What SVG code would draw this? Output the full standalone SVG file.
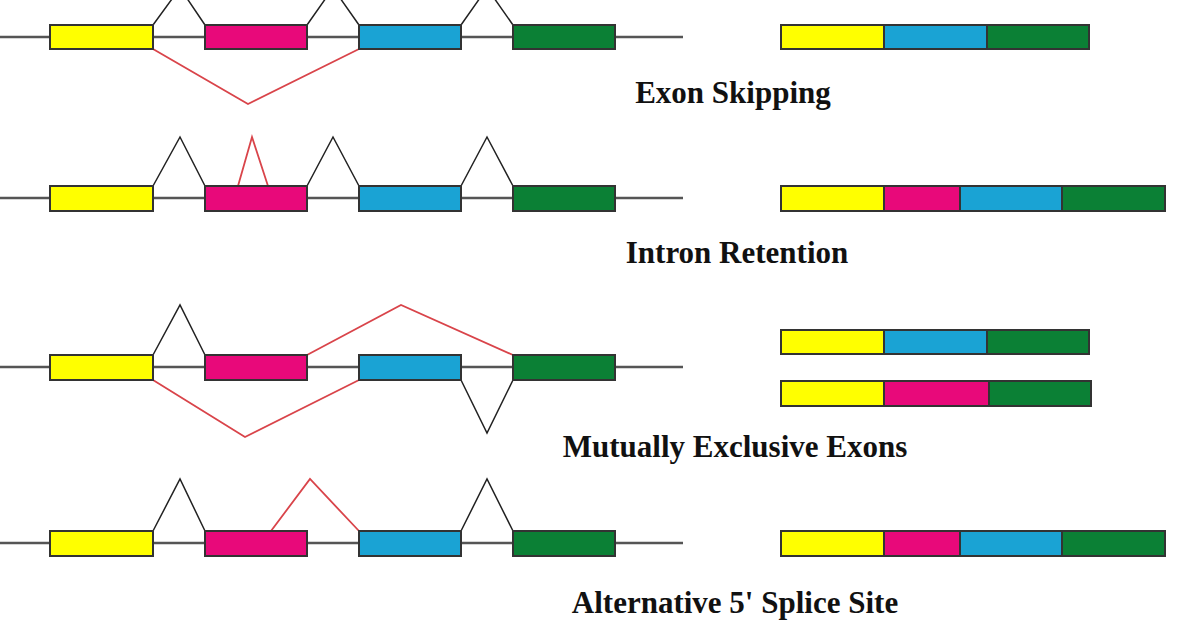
<svg xmlns="http://www.w3.org/2000/svg" width="1196" height="628" viewBox="0 0 1196 628">
<style>
.ln{stroke:#555;stroke-width:2.5}
.y{fill:#ffff00;stroke:#333;stroke-width:2}
.p{fill:#e8097a;stroke:#333;stroke-width:2}
.b{fill:#1aa3d4;stroke:#333;stroke-width:2}
.g{fill:#0b8035;stroke:#333;stroke-width:2}
.k{fill:none;stroke:#222;stroke-width:1.5}
.r{fill:none;stroke:#d9444a;stroke-width:1.8}
text{font-family:"Liberation Serif",serif;font-weight:bold;font-size:31px;fill:#111;text-anchor:middle}
</style>
<rect width="1196" height="628" fill="#fff"/>
<g id="connectors">
<polyline class="k" points="153,25 180,-12 205,25"/><polyline class="k" points="307,25 333,-12 359,25"/><polyline class="k" points="461,25 487,-12 513,25"/>
<polyline class="r" points="153,49 248,104 359,49"/>
<polyline class="k" points="153,186 180,137 205,186"/><polyline class="k" points="307,186 333,137 359,186"/><polyline class="k" points="461,186 487,137 513,186"/>
<polyline class="r" points="238,186 252,137 268,186"/>
<polyline class="k" points="153,355 180,305 205,355"/>
<polyline class="r" points="307,355 401,305 513,355"/>
<polyline class="r" points="153,380 245,437 359,380"/>
<polyline class="k" points="461,380 487,433 513,380"/>
<polyline class="k" points="153,531 180,479 205,531"/><polyline class="k" points="461,531 487,479 513,531"/>
<polyline class="r" points="271,531 310,479 359,531"/>
</g>
<g id="row1">
<line class="ln" x1="0" y1="37" x2="683" y2="37"/>
<rect class="y" x="50" y="25" width="103" height="24"/><rect class="p" x="205" y="25" width="102" height="24"/><rect class="b" x="359" y="25" width="102" height="24"/><rect class="g" x="513" y="25" width="102" height="24"/>
<rect class="y" x="781" y="25" width="103" height="24"/><rect class="b" x="884" y="25" width="103" height="24"/><rect class="g" x="987" y="25" width="102" height="24"/>
<text x="733" y="103">Exon Skipping</text>
</g>
<g id="row2">
<line class="ln" x1="0" y1="198" x2="683" y2="198"/>
<rect class="y" x="50" y="186" width="103" height="25"/><rect class="p" x="205" y="186" width="102" height="25"/><rect class="b" x="359" y="186" width="102" height="25"/><rect class="g" x="513" y="186" width="102" height="25"/>
<rect class="y" x="781" y="186" width="103" height="25"/><rect class="p" x="884" y="186" width="76" height="25"/><rect class="b" x="960" y="186" width="102" height="25"/><rect class="g" x="1062" y="186" width="103" height="25"/>
<text x="737" y="263">Intron Retention</text>
</g>
<g id="row3">
<line class="ln" x1="0" y1="367" x2="683" y2="367"/>
<rect class="y" x="50" y="355" width="103" height="25"/><rect class="p" x="205" y="355" width="102" height="25"/><rect class="b" x="359" y="355" width="102" height="25"/><rect class="g" x="513" y="355" width="102" height="25"/>
<rect class="y" x="781" y="330" width="103" height="24"/><rect class="b" x="884" y="330" width="103" height="24"/><rect class="g" x="987" y="330" width="102" height="24"/>
<rect class="y" x="781" y="381" width="103" height="25"/><rect class="p" x="884" y="381" width="105" height="25"/><rect class="g" x="989" y="381" width="102" height="25"/>
<text x="735" y="457">Mutually Exclusive Exons</text>
</g>
<g id="row4">
<line class="ln" x1="0" y1="543" x2="683" y2="543"/>
<rect class="y" x="50" y="531" width="103" height="25"/><rect class="p" x="205" y="531" width="102" height="25"/><rect class="b" x="359" y="531" width="102" height="25"/><rect class="g" x="513" y="531" width="102" height="25"/>
<rect class="y" x="781" y="531" width="103" height="25"/><rect class="p" x="884" y="531" width="76" height="25"/><rect class="b" x="960" y="531" width="102" height="25"/><rect class="g" x="1062" y="531" width="103" height="25"/>
<text x="735" y="613">Alternative 5' Splice Site</text>
</g>
</svg>
